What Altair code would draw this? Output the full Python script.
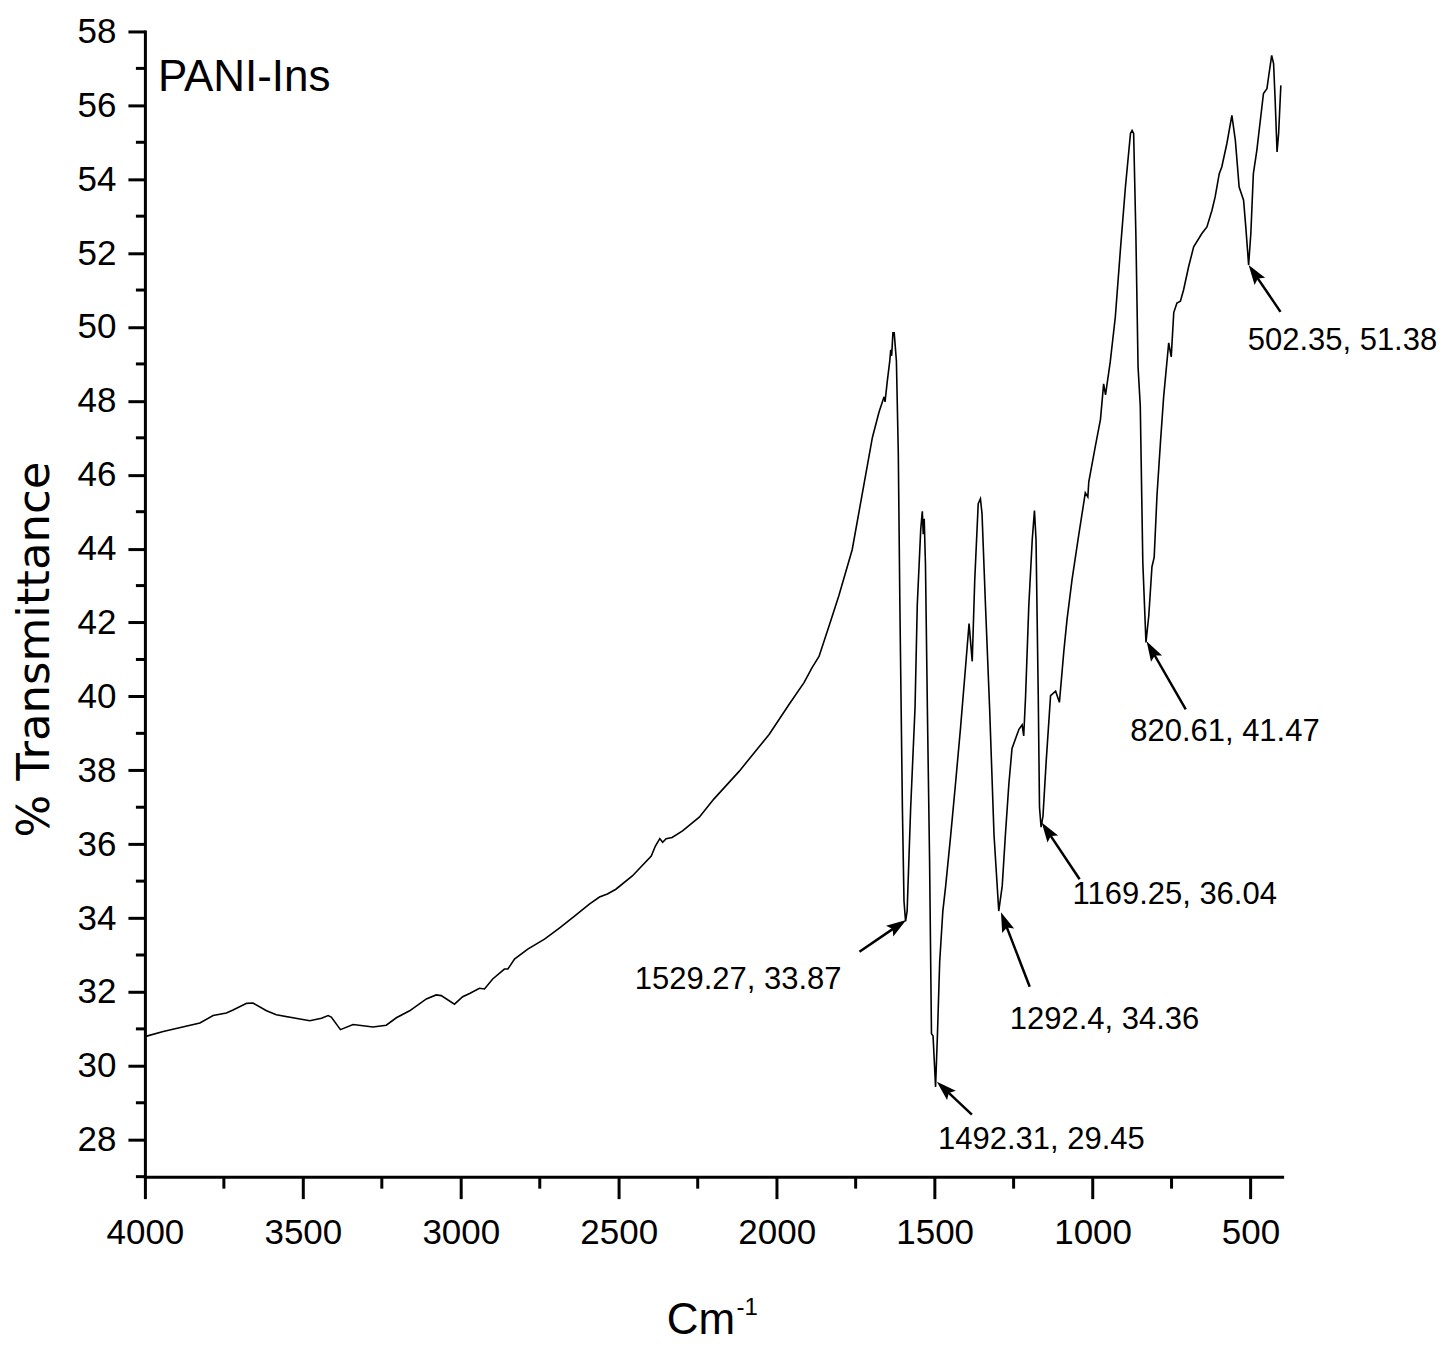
import math
import altair as alt
import pandas as pd

# ---------------- data ----------------
wavenumber = [4000, 3942, 3826, 3784, 3742, 3721, 3678, 3658, 3615, 3584, 3478, 3441, 3420, 3410, 3381,
              3341, 3278, 3236, 3204, 3162, 3109, 3078, 3062, 3020, 2994, 2972, 2941, 2925, 2899, 2862,
              2851, 2830, 2788, 2735, 2688, 2640, 2593, 2561, 2536, 2509, 2457, 2397, 2384, 2370, 2361,
              2350, 2331, 2298, 2245, 2199, 2119, 2024, 1961, 1913, 1888, 1866, 1834, 1803, 1761, 1729,
              1697, 1676, 1660, 1657, 1650, 1642, 1639, 1636, 1632, 1628, 1621, 1615, 1610, 1602, 1597,
              1592, 1587, 1576, 1562, 1555, 1544, 1539, 1536, 1533, 1529, 1523, 1516, 1510, 1505, 1497,
              1491, 1484, 1474, 1465, 1449, 1434, 1418, 1402, 1391, 1381, 1373, 1362, 1355, 1350, 1339,
              1326, 1312, 1297, 1286, 1276, 1265, 1255, 1233, 1223, 1218, 1212, 1202, 1191, 1184, 1179,
              1172, 1168, 1163, 1157, 1147, 1133, 1117, 1105, 1091, 1081, 1065, 1044, 1023, 1015, 1012,
              991, 975, 965, 959, 944, 928, 912, 896, 880, 875, 870, 863, 856, 849, 841,
              831, 822, 812, 805, 796, 785, 775, 759, 751, 743, 733, 722, 712, 696, 680,
              654, 638, 622, 612, 599, 591, 575, 559, 548, 536, 522, 515, 506, 499, 491,
              480, 469, 459, 448, 443, 433, 427, 422, 416, 411, 404]

transmittance = [30.79, 30.93, 31.16, 31.36, 31.43, 31.51, 31.69, 31.70, 31.49, 31.38, 31.22, 31.29, 31.36, 31.32, 30.98,
                 31.12, 31.05, 31.10, 31.30, 31.49, 31.81, 31.92, 31.90, 31.67, 31.87, 31.96, 32.10, 32.08, 32.35, 32.62,
                 32.62, 32.89, 33.16, 33.43, 33.73, 34.05, 34.38, 34.57, 34.65, 34.78, 35.14, 35.68, 35.95, 36.15, 36.05,
                 36.15, 36.18, 36.36, 36.73, 37.22, 37.97, 38.97, 39.78, 40.38, 40.78, 41.08, 41.91, 42.73, 43.97, 45.49,
                 47.01, 47.70, 48.11, 47.97, 48.52, 49.08, 49.38, 49.22, 49.84, 49.84, 49.08, 46.59, 42.46, 36.95, 34.46,
                 33.91, 34.19, 36.95, 39.70, 42.46, 44.52, 45.01, 44.39, 44.81, 43.57, 39.70, 35.57, 30.87, 30.81, 29.43,
                 30.87, 32.81, 34.19, 34.87, 36.25, 37.63, 39.15, 40.81, 41.97, 40.95, 43.15, 45.22, 45.35, 44.95, 42.46,
                 39.70, 36.25, 34.19, 34.87, 36.25, 37.63, 38.59, 39.11, 39.23, 38.93, 40.02, 42.43, 44.24, 45.03, 44.24,
                 40.03, 37.00, 36.46, 36.76, 38.22, 40.02, 40.14, 39.84, 41.22, 42.07, 43.16, 44.36, 45.51, 45.40, 45.81,
                 46.78, 47.50, 48.46, 48.16, 49.06, 50.27, 52.08, 53.79, 55.24, 55.32, 55.24, 52.54, 48.92, 47.86, 43.64,
                 41.46, 42.19, 43.51, 43.76, 45.45, 46.89, 48.11, 49.57, 49.19, 50.39, 50.65, 50.70, 51.00, 51.63, 52.17,
                 52.53, 52.71, 53.16, 53.52, 54.15, 54.33, 54.96, 55.73, 55.05, 53.79, 53.43, 52.71, 51.68, 52.53, 54.15,
                 54.78, 55.59, 56.32, 56.45, 56.76, 57.35, 57.13, 56.14, 54.74, 55.24, 56.54]

x_major = [4000, 3500, 3000, 2500, 2000, 1500, 1000, 500]
x_minor = [3750, 3250, 2750, 2250, 1750, 1250, 750]
y_major = [28, 30, 32, 34, 36, 38, 40, 42, 44, 46, 48, 50, 52, 54, 56, 58]
y_minor = [27, 29, 31, 33, 35, 37, 39, 41, 43, 45, 47, 49, 51, 53, 55, 57]

ann_labels = ["1529.27, 33.87", "1492.31, 29.45", "1292.4, 34.36",
              "1169.25, 36.04", "820.61, 41.47", "502.35, 51.38"]
ann_tip_x = [1590, 1493, 1290, 1161, 829, 506]
ann_tip_y = [33.95, 29.57, 34.16, 36.59, 41.49, 51.68]
ann_tail_x = [1738, 1382, 1199, 1041, 705, 405]
ann_tail_y = [33.09, 28.68, 32.14, 35.05, 39.65, 50.41]
ann_text_x = [2122, 1162, 962, 740, 581, 209]
ann_text_y = [32.08, 27.76, 31.00, 34.38, 38.78, 49.38]

panel_label = "PANI-Ins"
x_title = "Cm"
x_title_sup = "-1"
y_title = "% Transmittance"

# ---------------- layout / style ----------------
W, H = 1138, 1146
X_DOMAIN = [400, 4000]
Y_DOMAIN = [27, 58]
FONT = "'Liberation Sans', Arial, sans-serif"
TITLE_FONT = "'DejaVu Sans', sans-serif"
HEAD = 20  # arrow head length in px


def to_px(x, y):
    return (W * (X_DOMAIN[1] - x) / (X_DOMAIN[1] - X_DOMAIN[0]),
            H * (Y_DOMAIN[1] - y) / (Y_DOMAIN[1] - Y_DOMAIN[0]))


def to_data(px, py):
    return (X_DOMAIN[1] - px * (X_DOMAIN[1] - X_DOMAIN[0]) / W,
            Y_DOMAIN[1] - py * (Y_DOMAIN[1] - Y_DOMAIN[0]) / H)


df = pd.DataFrame({"wn": wavenumber, "t": transmittance, "i": list(range(len(wavenumber)))})

rows = []
for lab, tx, ty, bx, by, lx, ly in zip(ann_labels, ann_tip_x, ann_tip_y, ann_tail_x, ann_tail_y,
                                       ann_text_x, ann_text_y):
    p1 = to_px(tx, ty)
    p0 = to_px(bx, by)
    dx, dy = p1[0] - p0[0], p1[1] - p0[1]
    L = math.hypot(dx, dy)
    ang = math.degrees(math.atan2(dx, -dy)) % 360
    ex, ey = to_data(p1[0] - dx / L * HEAD * 0.6, p1[1] - dy / L * HEAD * 0.6)
    rows.append(dict(label=lab, wn=tx, t=ty, wn_tail=bx, t_tail=by, wn_end=ex, t_end=ey,
                     angle=ang, wn_text=lx, t_text=ly))
ann = pd.DataFrame(rows)

xscale = alt.Scale(domain=X_DOMAIN, reverse=True, nice=False, zero=False)
yscale = alt.Scale(domain=Y_DOMAIN, nice=False, zero=False)

x_axis = alt.Axis(values=x_major, format="d", tickSize=22, tickWidth=3, tickColor="black",
                  domainWidth=3, domainColor="black", domainCap="square",
                  labelFont=FONT, labelFontSize=35, labelColor="black", labelPadding=17,
                  labelFlush=False, labelOverlap=False, grid=False,
                  title=x_title, titleFont=FONT, titleFontSize=44, titleFontWeight="normal",
                  titleColor="black", titleX=556, titleY=157, titleAlign="center",
                  titleBaseline="alphabetic")
y_axis = alt.Axis(values=y_major, format="d", tickSize=17, tickWidth=3, tickColor="black",
                  domainWidth=3, domainColor="black", domainCap="square",
                  labelFont=FONT, labelFontSize=35, labelColor="black", labelPadding=12,
                  labelFlush=False, labelOverlap=False, grid=False,
                  title=y_title, titleFont=TITLE_FONT, titleFontSize=45, titleFontWeight="normal",
                  titleColor="black", titleAngle=270, titleX=-96, titleY=618,
                  titleAlign="center", titleBaseline="alphabetic")

line = alt.Chart(df).mark_line(color="black", strokeWidth=1.6).encode(
    x=alt.X("wn:Q", scale=xscale, axis=x_axis),
    y=alt.Y("t:Q", scale=yscale, axis=y_axis),
    order=alt.Order("i:Q"),
)

minor_x = alt.Chart(pd.DataFrame({"wn": x_minor})).mark_rule(color="black", strokeWidth=3).encode(
    x=alt.X("wn:Q", scale=xscale, axis=x_axis),
    y=alt.value(H),
    y2=alt.value(H + 12),
)
minor_y = alt.Chart(pd.DataFrame({"t": y_minor})).mark_rule(color="black", strokeWidth=3).encode(
    y=alt.Y("t:Q", scale=yscale, axis=y_axis),
    x=alt.value(0),
    x2=alt.value(-9),
)

arrows = alt.Chart(ann).mark_rule(color="black", strokeWidth=2.5).encode(
    x=alt.X("wn_tail:Q", scale=xscale, axis=x_axis),
    y=alt.Y("t_tail:Q", scale=yscale, axis=y_axis),
    x2="wn_end:Q",
    y2="t_end:Q",
)
heads = alt.Chart(ann).mark_point(
    shape="M0,0 L-0.32,1 L0,0.82 L0.32,1 Z", filled=True, size=4 * HEAD * HEAD,
    color="black", opacity=1, strokeWidth=0,
).encode(
    x=alt.X("wn:Q", scale=xscale, axis=x_axis),
    y=alt.Y("t:Q", scale=yscale, axis=y_axis),
    angle=alt.Angle("angle:Q", scale=None),
)
labels = alt.Chart(ann).mark_text(font=FONT, fontSize=31, color="black", align="center",
                                  baseline="alphabetic").encode(
    x=alt.X("wn_text:Q", scale=xscale, axis=x_axis),
    y=alt.Y("t_text:Q", scale=yscale, axis=y_axis),
    text="label:N",
)

panel = alt.Chart(pd.DataFrame({"s": [panel_label]})).mark_text(
    font=FONT, fontSize=44, color="black", align="left", baseline="alphabetic").encode(
    x=alt.value(13), y=alt.value(60), text="s:N")

sup = alt.Chart(pd.DataFrame({"s": [x_title_sup]})).mark_text(
    font=FONT, fontSize=24, color="black", align="left", baseline="alphabetic").encode(
    x=alt.value(592), y=alt.value(1284), text="s:N")

chart = alt.layer(line, minor_x, minor_y, arrows, heads, labels, panel, sup).properties(
    width=W, height=H,
    padding={"left": 137, "top": 23, "right": 155, "bottom": 165},
    autosize=alt.AutoSizeParams(type="none"),
    background="white",
).configure_view(strokeWidth=0)

chart.save("out.html", embed_options={"renderer": "svg", "actions": False})
